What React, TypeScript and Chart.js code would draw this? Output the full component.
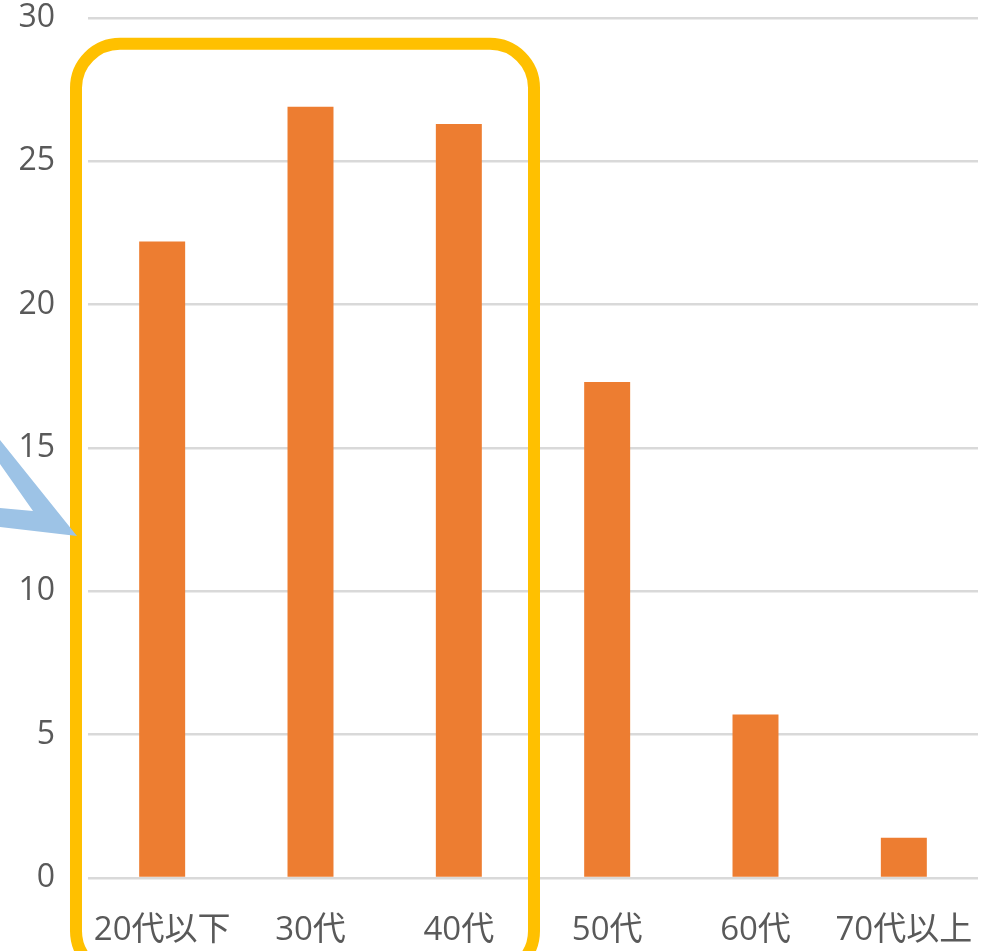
import React, { useEffect, useRef } from "react";
import { Chart, registerables } from "chart.js";

Chart.register(...registerables);

const categories = ["20代以下", "30代", "40代", "50代", "60代", "70代以上"];
const values = [22.2, 26.9, 26.3, 17.3, 5.7, 1.4];
const yMin = 0;
const yMax = 30;
const yStep = 5;

const FONT = "'Open Sans', 'Noto Sans CJK JP', sans-serif";

const overlayPlugin = {
  id: "overlay",
  afterDraw(chart: any) {
    const { ctx, chartArea, scales } = chart;
    const x = scales.x;
    const y = scales.y;
    ctx.save();
    // yellow rounded rectangle around first three categories
    const left = chartArea.left - 12;
    const right = (x.getPixelForValue(2) + x.getPixelForValue(3)) / 2 + 1;
    const top = y.getPixelForValue(29.1);
    const bottom = chart.height + 24;
    const r = 44;
    ctx.strokeStyle = "#FFC000";
    ctx.lineWidth = 12;
    ctx.beginPath();
    ctx.moveTo(left + r, top);
    ctx.lineTo(right - r, top);
    ctx.arcTo(right, top, right, top + r, r);
    ctx.lineTo(right, bottom - r);
    ctx.arcTo(right, bottom, right - r, bottom, r);
    ctx.lineTo(left + r, bottom);
    ctx.arcTo(left, bottom, left, bottom - r, r);
    ctx.lineTo(left, top + r);
    ctx.arcTo(left, top, left + r, top, r);
    ctx.closePath();
    ctx.stroke();

    // blue arrowhead outline (partially visible)
    const tipX = chartArea.left - 11;
    const tipY = 536;
    ctx.fillStyle = "#9DC3E6";
    ctx.beginPath();
    ctx.moveTo(tipX - 77, tipY - 96);
    ctx.lineTo(tipX, tipY);
    ctx.lineTo(tipX - 77, tipY - 9);
    ctx.closePath();
    ctx.moveTo(tipX - 77, tipY - 72);
    ctx.lineTo(tipX - 44, tipY - 25);
    ctx.lineTo(tipX - 77, tipY - 28);
    ctx.closePath();
    ctx.fill("evenodd");
    ctx.restore();
  },
};

export default function App() {
  const ref = useRef<HTMLCanvasElement>(null);
  useEffect(() => {
    if (!ref.current) return;
    const chart = new Chart(ref.current, {
      type: "bar",
      data: {
        labels: categories,
        datasets: [
          {
            data: values,
            backgroundColor: "#ED7D31",
            borderWidth: 0,
            categoryPercentage: 1,
            barPercentage: 0.31,
          },
        ],
      },
      options: {
        animation: false,
        responsive: true,
        maintainAspectRatio: false,
        layout: { padding: { top: 18, right: 3, left: 0, bottom: 0 } },
        plugins: { legend: { display: false }, tooltip: { enabled: false } },
        scales: {
          x: {
            grid: { display: false, drawTicks: false },
            border: { display: false },
            ticks: {
              color: "#595959",
              font: { family: FONT, size: 33 },
              padding: 33,
              maxRotation: 0,
              autoSkip: false,
            },
            afterFit: (s: any) => {
              s.height = 73;
              s.paddingLeft = 0;
              s.paddingRight = 0;
            },
          },
          y: {
            min: yMin,
            max: yMax,
            grid: { color: "#D9D9D9", lineWidth: 2.5, drawTicks: false },
            border: { display: false },
            ticks: {
              stepSize: yStep,
              color: "#595959",
              font: { family: FONT, size: 32 },
              padding: 33,
            },
            afterFit: (s: any) => {
              s.width = 88;
              s.paddingTop = 0;
              s.paddingBottom = 0;
            },
          },
        },
      },
      plugins: [overlayPlugin],
    });
    return () => chart.destroy();
  }, []);
  return (
    <div style={{ position: "absolute", left: 0, top: 0, width: 981, height: 951, background: "#fff" }}>
      <canvas ref={ref} />
    </div>
  );
}
